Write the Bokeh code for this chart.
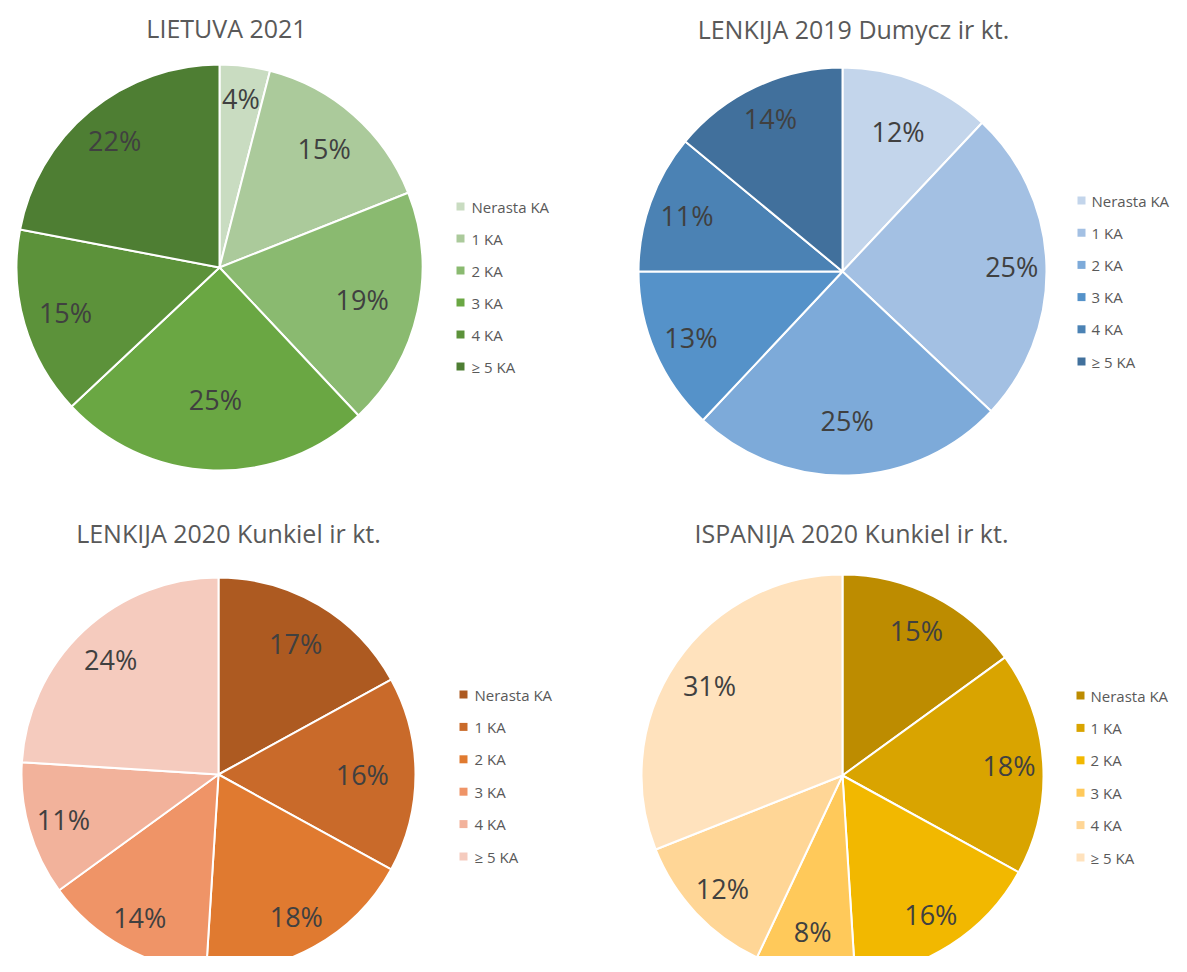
import math
from bokeh.plotting import figure
from bokeh.models import Range1d, Label, ColumnDataSource
from bokeh.core.properties import value
from bokeh.embed import file_html
from bokeh.resources import INLINE

# ---------------- data ----------------
categories = ["Nerasta KA", "1 KA", "2 KA", "3 KA", "4 KA", "≥ 5 KA"]

titles = ["LIETUVA 2021", "LENKIJA 2019 Dumycz ir kt.",
          "LENKIJA 2020 Kunkiel ir kt.", "ISPANIJA 2020 Kunkiel ir kt."]

lietuva_2021 = [4, 15, 19, 25, 15, 22]
lenkija_2019 = [12, 25, 25, 13, 11, 14]
lenkija_2020 = [17, 16, 18, 14, 11, 24]
ispanija_2020 = [15, 18, 16, 8, 12, 31]

# ---------------- styles ----------------
greens = ["#c9dcc1", "#abca9b", "#8aba70", "#6aa743", "#5c923a", "#4e7e33"]
blues = ["#c3d5eb", "#a3c0e3", "#7daad9", "#5592c9", "#4b82b4", "#41709c"]
oranges = ["#ad5a21", "#c96a2a", "#e07a30", "#ef9467", "#f2b29b", "#f5cbbe"]
yellows = ["#bd8c00", "#d9a400", "#f2b800", "#ffc95a", "#ffd696", "#ffe2bd"]

FONT = "Open Sans"
W, H = 1171, 956


def Y(yr):
    # picture pixel row -> data y
    return 972 - yr


p = figure(width=W, height=H, output_backend="svg", toolbar_location=None,
           x_range=Range1d(0, W), y_range=Range1d(972 - H, 972),
           min_border=0, outline_line_color=None)
p.axis.visible = False
p.grid.visible = False
p.background_fill_color = "white"
p.border_fill_color = "white"

# layout: centre, radius, title centre, legend (square x, text x, first y, pitch), label radial fractions
layouts = [
    dict(data=lietuva_2021, colors=greens, c=(219, 267), r=203, t=(226, 27),
         leg=(460, 471, 206, 32.0), f=[0.84, 0.78, 0.72, 0.65, 0.79, 0.81]),
    dict(data=lenkija_2019, colors=blues, c=(842, 271), r=204, t=(853, 28),
         leg=(1081, 1091, 200, 32.2), f=[0.74, 0.83, 0.73, 0.81, 0.81, 0.83]),
    dict(data=lenkija_2020, colors=oranges, c=(218, 774), r=197, t=(228, 532),
         leg=(463, 474, 694, 32.4), f=[0.77, 0.73, 0.82, 0.83, 0.82, 0.80]),
    dict(data=ispanija_2020, colors=yellows, c=(842, 775), r=201, t=(851, 532),
         leg=(1080, 1090, 695, 32.4), f=[0.81, 0.83, 0.82, 0.79, 0.82, 0.80]),
]

for title, L in zip(titles, layouts):
    vals = L["data"]
    total = float(sum(vals))
    cx, cy = L["c"][0], Y(L["c"][1])
    r = L["r"]
    starts, ends, lx, ly, txt = [], [], [], [], []
    cum = 0.0
    for v, fr in zip(vals, L["f"]):
        a0 = math.pi / 2 - 2 * math.pi * cum / total
        a1 = math.pi / 2 - 2 * math.pi * (cum + v) / total
        mid = math.pi / 2 - 2 * math.pi * (cum + v / 2) / total
        starts.append(a0)
        ends.append(a1)
        lx.append(cx + fr * r * math.cos(mid))
        ly.append(cy + fr * r * math.sin(mid))
        txt.append(f"{round(100 * v / total)}%")
        cum += v
    src = ColumnDataSource(dict(x=[cx] * len(vals), y=[cy] * len(vals),
                                start=starts, end=ends, color=L["colors"],
                                cat=categories))
    p.wedge(x="x", y="y", radius=r, radius_units="screen", start_angle="start",
            end_angle="end", direction="clock", fill_color="color",
            line_color="white", line_width=2, source=src)
    p.text(x=lx, y=ly, text=txt, text_align="center", text_baseline="middle",
           text_font=value(FONT), text_font_size="27px", text_color="#404040")

    # title
    p.add_layout(Label(x=L["t"][0], y=Y(L["t"][1]), text=title, text_align="center",
                       text_baseline="middle", text_font=FONT, text_font_size="25px",
                       text_color="#595959"))

    # legend
    sqx, tx, y0, pitch = L["leg"]
    ys = [Y(y0 + pitch * i) for i in range(len(categories))]
    p.scatter(x=[sqx] * len(categories), y=ys, marker="square", size=8,
              fill_color=L["colors"], line_color=None)
    p.text(x=[tx] * len(categories), y=ys, text=categories, text_align="left",
           text_baseline="middle", text_font=value(FONT), text_font_size="15px",
           text_color="#595959")

open("out.html", "w").write(file_html(p, INLINE))
